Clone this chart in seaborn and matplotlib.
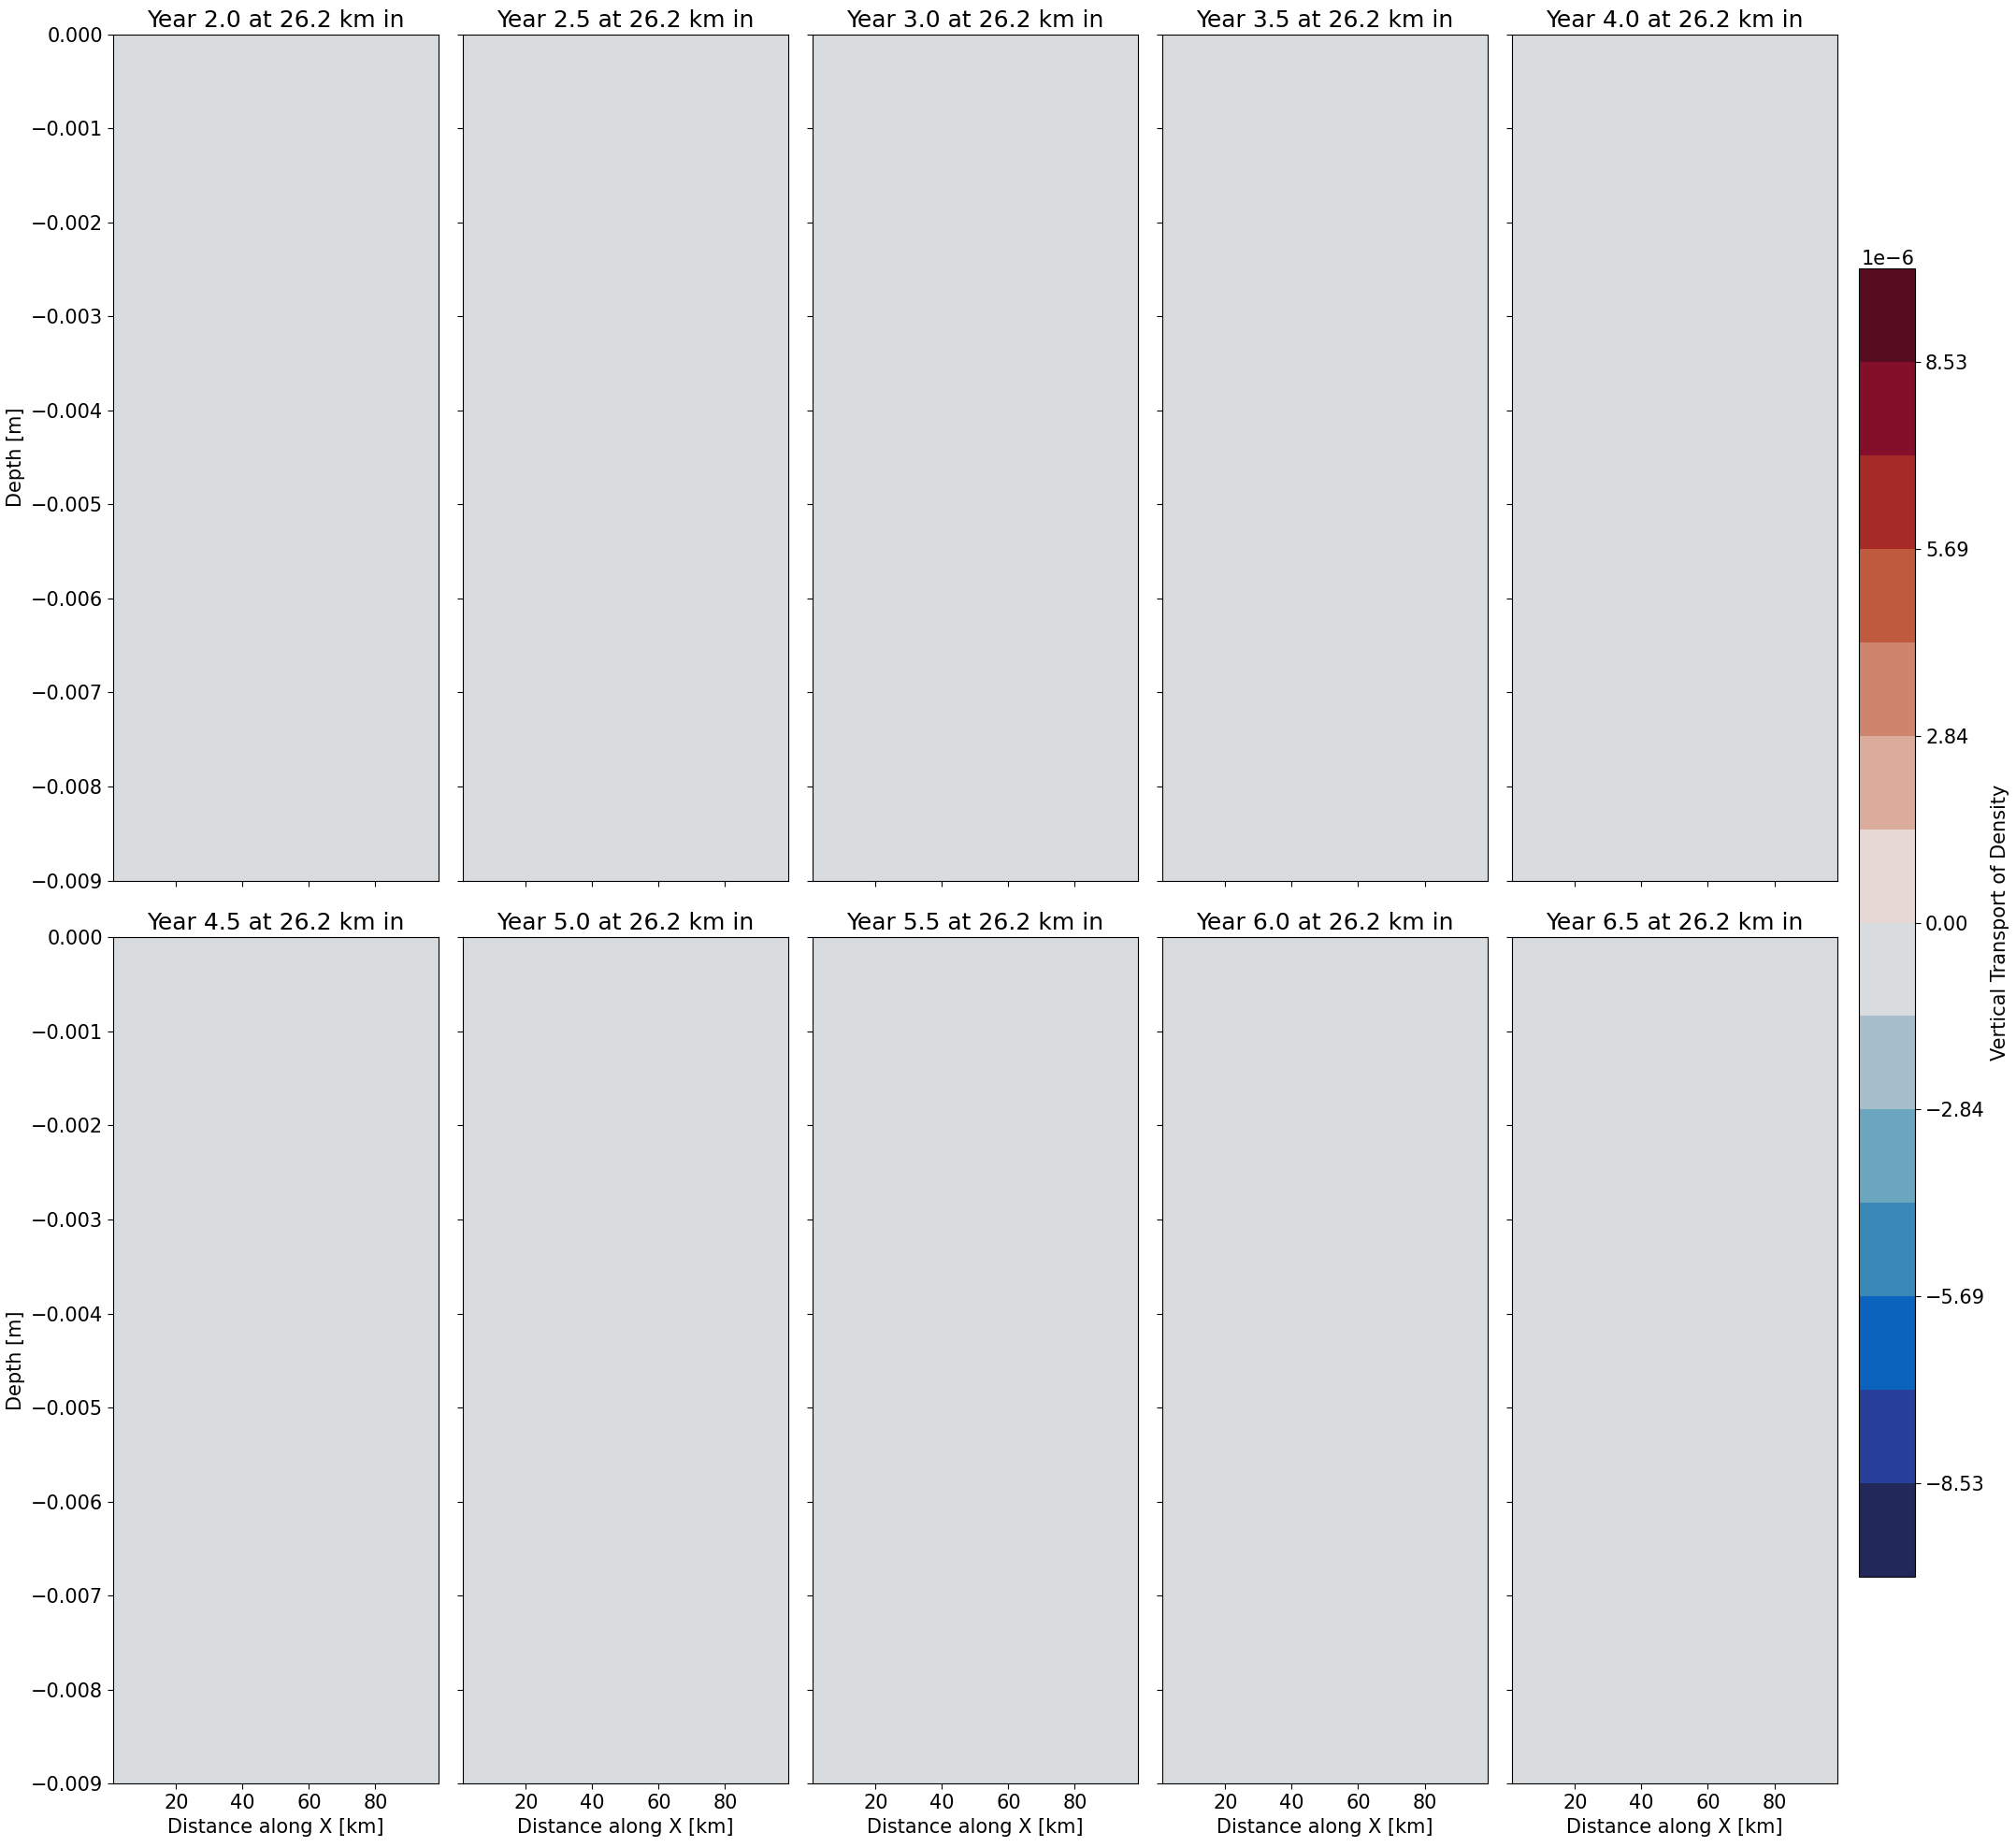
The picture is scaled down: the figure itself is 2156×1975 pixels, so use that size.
import numpy as np
import matplotlib
matplotlib.use("Agg")
import matplotlib.pyplot as plt
import seaborn as sns
from matplotlib.colors import ListedColormap
from matplotlib.ticker import MultipleLocator

# ---------------- data ----------------
years = [2.0, 2.5, 3.0, 3.5, 4.0, 4.5, 5.0, 5.5, 6.0, 6.5]
section_km = 26.2
x_km = [1.0, 99.0]                 # along-section distance [km]
depth_m = [-0.009, 0.0]            # depth [m]
# uniform vertical transport of density (all zero)
panel_values = [0.0, 0.0, 0.0, 0.0, 0.0, 0.0, 0.0, 0.0, 0.0, 0.0]
level_step = 1.4217e-6             # contour level spacing
level_index = np.arange(-7, 8)     # 15 boundaries -> 14 bins
colorbar_label = "Vertical Transport of Density"

# colours of the 14 filled bins (bottom -> top)
bin_colors = ["#22285a", "#283f9a", "#0b63bd", "#3988b8", "#6aa6bd",
              "#a7bfcb", "#d8dcdf", "#e8d8d5", "#dbac9c", "#cf846d",
              "#bf5a3e", "#a62a25", "#840f2b", "#570d1f"]

# ---------------- style ----------------
sns.set_style("ticks", rc={
    "axes.edgecolor": "black", "text.color": "black",
    "xtick.color": "black", "ytick.color": "black",
    "axes.labelcolor": "black", "axes.linewidth": 0.8,
    "xtick.direction": "out", "ytick.direction": "out",
})
plt.rcParams["font.family"] = ["DejaVu Sans"]

cmap = ListedColormap(sns.color_palette(bin_colors))
levels = level_step * level_index

fig = plt.figure(figsize=(21.56, 19.75), dpi=100)
axes = fig.subplots(2, 5, sharex=True, sharey=True)
fig.subplots_adjust(left=0.0561, right=0.9114, bottom=0.0344, top=0.9813,
                    wspace=0.0747, hspace=0.0674)

TICK = 15
LAB = 15
TIT = 18

cs = None
for ax, yr, val in zip(axes.flat, years, panel_values):
    Z = np.full((len(depth_m), len(x_km)), val)
    cs = ax.contourf(x_km, depth_m, Z, levels=levels, cmap=cmap)
    ax.set_title(f"Year {yr:.1f} at {section_km} km in", fontsize=TIT)
    ax.yaxis.set_major_locator(MultipleLocator(0.001))
    ax.xaxis.set_major_locator(MultipleLocator(20))
    ax.tick_params(labelsize=TICK, length=4.5, width=0.8)
    for s in ax.spines.values():
        s.set_visible(True)
        s.set_linewidth(0.8)

for ax in axes[:, 0]:
    ax.set_ylabel("Depth [m]", fontsize=LAB)
for ax in axes[-1, :]:
    ax.set_xlabel("Distance along X [km]", fontsize=LAB)

cax = fig.add_axes([0.9221, 0.1463, 0.0278, 0.7084])
cb = fig.colorbar(cs, cax=cax, ticks=levels[1::2])
cb.set_label(colorbar_label, fontsize=LAB)
cb.ax.tick_params(labelsize=TICK, length=4.5, width=0.8)
cb.ax.yaxis.get_offset_text().set_fontsize(TICK)
cb.outline.set_linewidth(0.8)

fig.savefig("out.png", dpi=100)
